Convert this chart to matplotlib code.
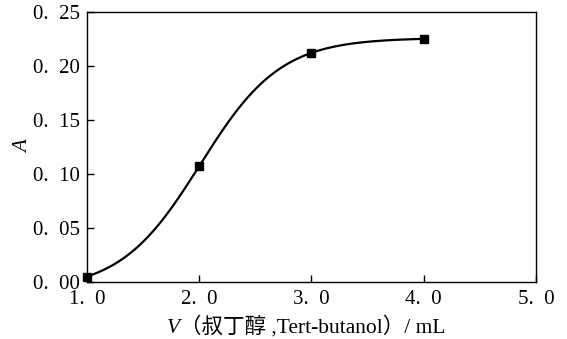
import numpy as np
import matplotlib
matplotlib.use("Agg")
import matplotlib.pyplot as plt
from matplotlib.ticker import FuncFormatter

plt.rcParams['font.family'] = ['Liberation Serif', 'Noto Sans CJK SC', 'DejaVu Sans']

# data
volume = [1.0, 2.0, 3.0, 4.0]
absorb = [0.005, 0.107, 0.212, 0.225]

x_ticks = [1.0, 2.0, 3.0, 4.0, 5.0]
y_ticks = [0.00, 0.05, 0.10, 0.15, 0.20, 0.25]


def boltzmann(p, x):
    a1, a2, x0, dx = p
    return a2 + (a1 - a2) / (1 + np.exp((x - x0) / dx))


def fit_boltzmann(x, y):
    # damped Gauss-Newton, sigmoid through the measured points
    x = np.asarray(x)
    y = np.asarray(y)
    p = np.array([0.0, y.max(), x.mean() - 0.5, 0.4])
    lam = 1e-3
    for _ in range(300):
        r = boltzmann(p, x) - y
        J = np.empty((len(x), 4))
        for k in range(4):
            dp = np.zeros(4)
            dp[k] = 1e-7
            J[:, k] = (boltzmann(p + dp, x) - boltzmann(p - dp, x)) / 2e-7
        A = J.T @ J + lam * np.eye(4)
        step = np.linalg.solve(A, -J.T @ r)
        p_new = p + step
        if np.sum((boltzmann(p_new, x) - y) ** 2) < np.sum(r ** 2):
            p = p_new
            lam *= 0.3
        else:
            lam *= 5
    return p


def cn_fmt(nd):
    # "0. 25" style labels, as in the printed figure
    return FuncFormatter(lambda v, _: f"{v:.{nd}f}".replace(".", ".\u2002"))


par = fit_boltzmann(volume, absorb)
xs = np.linspace(volume[0], volume[-1], 300)

fig = plt.figure(figsize=(5.67, 3.39), dpi=100)
ax = fig.add_axes([0.153, 0.168, 0.792, 0.797])

ax.plot(xs, boltzmann(par, xs), color="black", lw=1.6)
ax.plot(volume, absorb, "s", color="black", ms=6, clip_on=False, zorder=3)

ax.set_xlim(1.0, 5.0)
ax.set_ylim(0.0, 0.25)
ax.set_xticks(x_ticks)
ax.set_yticks(y_ticks)
ax.xaxis.set_major_formatter(cn_fmt(1))
ax.yaxis.set_major_formatter(cn_fmt(2))
ax.tick_params(direction="in", length=5, width=1, labelsize=15)
ax.tick_params(axis="x", pad=5.5)
ax.tick_params(axis="y", pad=5)
for s in ax.spines.values():
    s.set_linewidth(1)

ax.set_ylabel("A", fontstyle="italic", fontsize=15, labelpad=0)

tv = fig.text(0.294, 0.018, "V", fontstyle="italic", fontsize=15.5)
ax.annotate("（叔丁醇 ,Tert-butanol）/ mL", xy=(1, 0), xycoords=tv,
            va="bottom", ha="left", fontsize=15.5)

fig.savefig("out.png", dpi=100)
